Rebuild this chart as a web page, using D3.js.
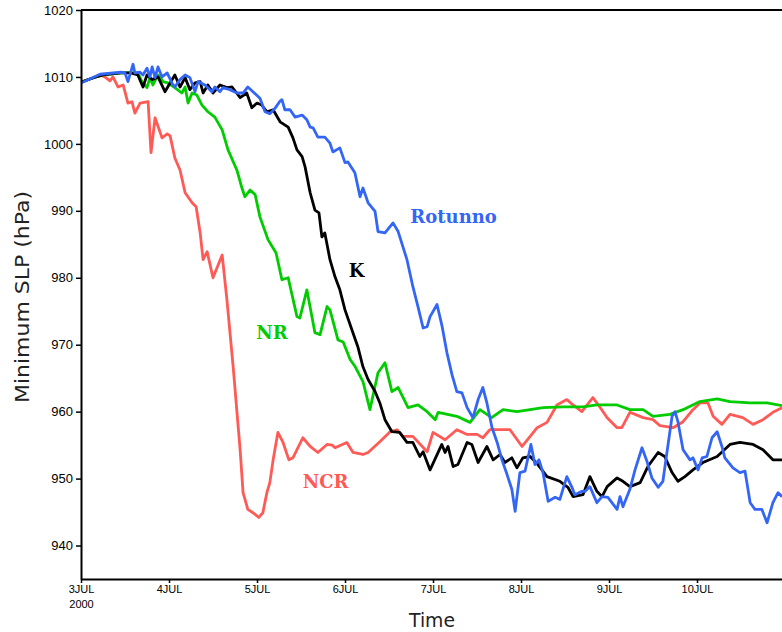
<!DOCTYPE html>
<html>
<head>
<meta charset="utf-8">
<script src="https://cdn.jsdelivr.net/npm/d3@7"></script>
<style>
  html, body { margin: 0; padding: 0; background: #fff; }
  svg { display: block; }
</style>
</head>
<body>
<svg id="chart" width="782" height="632"></svg>
<script>
// Minimum sea-level pressure (hPa) against hours since 3 JUL 2000 00Z.
const tickHours = [0, 24, 48, 72, 96, 120, 144, 168];
const tickLabels = ["3JUL", "4JUL", "5JUL", "6JUL", "7JUL", "8JUL", "9JUL", "10JUL"];
const yTicks = [940, 950, 960, 970, 980, 990, 1000, 1010, 1020];

const ncr = [[0,1009.2],[3,1009.8],[5.2,1010.3],[6.5,1010.0],[7.9,1009.4],[8.7,1010.0],[10.1,1008.5],[11.5,1008.8],[12.8,1006.1],[13.9,1006.3],[14.7,1004.6],[16.1,1006.1],[18.3,1006.3],[19.1,998.7],[20.2,1003.9],[22.1,1000.9],[23.5,1001.5],[24.3,1001.2],[25.6,997.9],[27.0,996.1],[28.4,992.7],[30.3,991.2],[31.4,990.6],[32.5,986.7],[33.3,982.7],[34.4,983.9],[36.0,980.0],[38.5,983.4],[39.8,976.7],[41.5,966.7],[43.4,954.3],[44.2,947.9],[45.5,945.4],[46.9,944.9],[48.5,944.2],[49.6,944.9],[50.7,947.9],[51.5,949.4],[52.4,952.8],[53.7,956.9],[55.1,955.4],[56.7,952.8],[57.8,953.1],[60.5,956.1],[62.5,954.8],[64.6,953.9],[67.1,955.1],[68.5,955.0],[69.3,954.6],[72.5,955.4],[74.2,953.9],[76.9,953.6],[78.3,953.9],[81.5,955.5],[84.3,957.0],[86.2,957.3],[87.8,956.3],[90.5,956.3],[94.4,954.0],[96.0,956.9],[99.3,955.8],[102.5,957.3],[105.3,956.6],[108.0,956.6],[109.6,956.1],[111.5,957.3],[117.0,957.3],[120.3,954.8],[122.5,956.3],[124.4,957.6],[127.1,958.4],[129.8,961.0],[132.5,961.8],[134.2,961.0],[136.6,960.0],[139.6,962.1],[141.5,960.7],[143.5,959.1],[146.2,957.6],[147.5,957.6],[149.7,959.9],[153.3,959.1],[156.0,958.8],[157.9,957.9],[161.5,957.6],[164.2,958.5],[166.9,960.3],[168.8,961.3],[171.0,961.3],[172.4,959.3],[174.8,958.1],[177.0,959.6],[180.5,959.1],[183.3,958.1],[186.0,958.8],[188.7,959.9],[191.2,960.6]];

const nr = [[0,1009.2],[3,1009.8],[6,1010.3],[10.9,1010.6],[14.2,1010.6],[15.5,1010.6],[16.6,1009.3],[18.0,1008.4],[18.8,1009.9],[19.6,1008.8],[21.0,1010.3],[22.4,1009.3],[23.7,1009.1],[25.6,1008.4],[27.5,1007.6],[28.4,1008.5],[29.2,1006.1],[30.3,1007.6],[31.6,1007.3],[33.0,1005.8],[34.6,1004.8],[36.5,1004.0],[38.5,1002.1],[40.1,999.1],[42.5,996.1],[43.9,993.4],[44.7,992.1],[46.1,993.1],[47.5,992.4],[48.8,989.1],[51.0,985.7],[53.2,983.7],[54.8,979.7],[56.5,980.0],[58.9,974.2],[59.7,974.0],[61.6,978.2],[63.8,971.8],[65.2,971.5],[67.1,975.7],[67.9,975.2],[70.1,970.7],[71.5,970.4],[73.4,967.8],[74.8,966.7],[76.9,964.5],[78.8,960.3],[81.0,965.8],[82.9,967.3],[84.8,963.0],[86.5,963.6],[89.2,960.6],[91.9,961.0],[94.4,960.0],[96.6,958.8],[97.4,959.9],[102.5,959.3],[106.1,958.4],[108.8,960.3],[112.0,959.1],[115.1,960.3],[118.9,960.0],[122.5,960.3],[126.0,960.6],[131.5,960.7],[136.9,960.7],[140.7,961.0],[146.2,961.0],[149.7,960.3],[153.3,960.3],[156.0,959.3],[160.6,959.6],[164.2,960.3],[168.8,961.5],[173.5,961.9],[177.0,961.5],[182.5,961.3],[187.1,961.3],[191.2,960.9]];

const k = [[0,1009.2],[3,1009.8],[6,1010.3],[10.9,1010.6],[13.6,1010.6],[15.5,1010.3],[16.9,1008.5],[18.0,1010.3],[19.4,1009.6],[21.0,1010.0],[22.9,1007.8],[24.3,1009.1],[25.6,1010.3],[27.0,1008.5],[28.4,1009.9],[29.7,1008.1],[31.1,1009.1],[32.5,1009.3],[33.3,1007.6],[34.6,1008.8],[36.0,1007.6],[37.9,1008.8],[39.8,1008.4],[41.2,1008.5],[43.4,1006.9],[45.2,1007.6],[46.6,1005.4],[48.0,1006.1],[49.3,1005.8],[50.7,1004.8],[52.4,1005.1],[54.3,1003.3],[56.5,1002.5],[57.8,1000.9],[58.9,999.1],[60.3,998.1],[61.1,996.6],[62.5,992.7],[63.8,990.1],[64.9,989.7],[65.7,986.1],[66.5,986.7],[67.9,982.7],[69.3,980.1],[70.6,978.2],[72.0,975.2],[73.9,972.2],[75.5,969.7],[76.9,966.7],[78.3,964.8],[80.2,963.0],[81.5,961.3],[82.9,958.8],[84.8,957.0],[86.9,956.9],[88.9,955.4],[90.5,955.4],[92.4,953.3],[93.3,954.0],[95.2,951.3],[98.4,955.1],[99.3,953.9],[100.1,954.8],[101.5,951.8],[102.8,952.1],[105.3,955.4],[106.6,955.1],[108.3,952.4],[110.7,954.8],[112.4,952.8],[114.3,953.6],[115.6,952.4],[117.5,953.1],[118.9,951.6],[120.5,953.1],[122.5,953.3],[124.6,952.1],[127.1,950.3],[130.6,949.6],[132.8,948.7],[134.2,947.3],[136.9,947.6],[138.8,950.3],[140.7,948.1],[142.1,947.3],[143.5,948.8],[146.2,950.1],[147.8,949.6],[149.7,948.8],[152.5,949.4],[154.6,951.8],[157.4,953.9],[159.2,953.3],[161.2,950.9],[162.8,949.6],[164.7,950.3],[166.9,951.3],[169.6,952.4],[173.5,953.3],[177.0,955.1],[179.7,955.4],[183.3,955.1],[186.0,954.3],[188.7,952.8],[191.2,952.8]];

const rotunno = [[0,1009.1],[5.2,1010.4],[10.9,1010.7],[12.0,1010.6],[12.8,1009.3],[14.2,1011.9],[14.7,1010.6],[16.1,1010.7],[16.9,1010.3],[18.0,1011.3],[18.8,1010.0],[19.4,1011.5],[20.2,1009.9],[21.0,1011.5],[22.1,1010.0],[23.5,1010.6],[24.8,1009.1],[25.6,1008.5],[27.0,1009.6],[28.4,1010.3],[29.7,1009.9],[31.1,1007.8],[31.9,1009.3],[33.8,1008.8],[35.7,1007.8],[36.5,1008.5],[37.9,1007.8],[38.7,1008.4],[40.6,1008.1],[42.5,1007.6],[44.2,1007.6],[45.5,1008.5],[46.9,1007.8],[48.8,1006.8],[50.2,1004.8],[51.5,1004.5],[52.9,1005.3],[54.3,1006.4],[54.8,1006.6],[55.6,1005.1],[57.0,1005.1],[58.4,1004.0],[60.3,1004.3],[61.6,1003.6],[62.5,1002.5],[63.3,1002.4],[64.6,1001.0],[66.5,1001.0],[67.9,1000.1],[68.7,998.8],[70.6,999.4],[72.0,997.2],[72.8,997.3],[74.7,995.7],[76.1,992.1],[76.9,993.4],[78.3,991.2],[80.2,989.9],[81.0,986.9],[82.9,986.7],[85.1,988.2],[86.5,986.9],[88.9,982.7],[90.5,978.7],[91.9,975.7],[93.3,972.5],[94.4,972.7],[95.2,974.2],[97.1,976.0],[98.5,972.7],[99.8,968.8],[101.2,965.5],[102.5,963.0],[103.9,962.8],[105.3,960.6],[106.9,959.1],[108.3,961.8],[109.6,963.6],[110.7,961.3],[112.1,957.6],[113.5,955.4],[114.8,952.8],[116.2,950.6],[117.5,948.4],[118.4,945.1],[119.7,950.9],[121.1,951.1],[122.7,955.1],[123.8,952.1],[124.9,952.8],[126.0,950.9],[127.4,946.6],[129.3,947.2],[130.6,946.9],[132.5,950.3],[133.9,948.7],[134.7,947.6],[136.6,948.1],[137.5,948.1],[138.8,948.8],[140.7,946.4],[142.1,947.3],[143.7,947.2],[146.2,945.4],[147.0,947.3],[147.8,945.8],[149.7,948.4],[151.1,951.3],[153.0,954.6],[154.4,952.5],[155.7,950.1],[157.4,948.7],[158.7,949.6],[159.8,953.9],[161.2,959.3],[162.0,960.0],[162.8,958.5],[164.2,954.3],[166.1,952.8],[166.9,953.1],[168.3,951.3],[169.4,953.1],[170.7,953.3],[172.1,956.1],[173.5,957.0],[174.8,954.8],[175.6,953.1],[177.8,951.6],[179.7,950.9],[181.1,951.1],[182.5,946.4],[183.8,945.4],[185.7,945.4],[187.1,943.4],[188.7,946.4],[190.1,947.9],[191.2,947.3]];

const series = [
  { name: "NCR", data: ncr, color: "#ff5a55", label: [60.5, 948.6] },
  { name: "NR", data: nr, color: "#00cc00", label: [47.8, 970.9] },
  { name: "Rotunno", data: rotunno, color: "#3466f6", label: [89.8, 988.2] },
  { name: "K", data: k, color: "#000000", label: [73.0, 980.1] }
];

const svg = d3.select("#chart");
const plotLeft = 81, plotRight = 785, plotTop = 10, plotBottom = 579;

const x = d3.scaleLinear().domain([0, 192]).range([plotLeft, plotRight]);
const y = d3.scaleLinear().domain([935, 1020]).range([plotBottom, plotTop]);

svg.append("defs").append("clipPath").attr("id", "plot")
  .append("rect").attr("x", plotLeft).attr("y", plotTop)
  .attr("width", plotRight - plotLeft).attr("height", plotBottom - plotTop);

const line = d3.line().x(d => x(d[0])).y(d => y(d[1]));

const lines = svg.append("g").attr("clip-path", "url(#plot)");
// draw order: NCR, NR, K, then Rotunno on top
[series[0], series[1], series[3], series[2]].forEach(s => {
  lines.append("path")
    .datum(s.data)
    .attr("d", line)
    .attr("fill", "none")
    .attr("stroke", s.color)
    .attr("stroke-width", 2.8)
    .attr("stroke-linejoin", "round");
});

// series names
series.forEach(s => {
  svg.append("text")
    .attr("x", x(s.label[0]))
    .attr("y", y(s.label[1]))
    .attr("font-family", "'DejaVu Serif', serif")
    .attr("font-weight", "bold")
    .attr("font-size", 18)
    .attr("fill", s.color)
    .text(s.name);
});

// axes
const yAxis = d3.axisLeft(y).tickValues(yTicks).tickSize(5).tickSizeOuter(0).tickPadding(3)
  .tickFormat(d3.format("d"));
const gy = svg.append("g").attr("transform", `translate(${plotLeft},0)`).call(yAxis);
gy.selectAll("text").attr("font-family", "'Liberation Sans', Arial, sans-serif").attr("font-size", 13).attr("fill", "#000");

const xAxis = d3.axisBottom(x).tickValues(tickHours).tickSize(4).tickSizeOuter(0).tickPadding(2)
  .tickFormat((d, i) => tickLabels[i]);
const gx = svg.append("g").attr("transform", `translate(0,${plotBottom})`).call(xAxis);
gx.selectAll("text").attr("font-family", "'Liberation Sans', Arial, sans-serif").attr("font-size", 11).attr("fill", "#000");
gx.selectAll(".tick").filter((d, i) => i === 0).append("text")
  .attr("y", 21).attr("dy", "0.71em").attr("text-anchor", "middle")
  .attr("font-family", "'Liberation Sans', Arial, sans-serif").attr("font-size", 11).attr("fill", "#000")
  .text("2000");

[gx, gy].forEach(g => {
  g.select(".domain").attr("stroke", "#000").attr("stroke-width", 2);
  g.selectAll(".tick line").attr("stroke", "#000").attr("stroke-width", 1.5);
});

// top frame line
svg.append("line").attr("x1", plotLeft).attr("x2", plotRight).attr("y1", plotTop).attr("y2", plotTop)
  .attr("stroke", "#000").attr("stroke-width", 2);

// axis titles
svg.append("text")
  .attr("transform", "translate(29,297) rotate(-90)")
  .attr("text-anchor", "middle")
  .attr("font-family", "'DejaVu Sans', sans-serif")
  .attr("font-size", 20)
  .attr("textLength", 212)
  .attr("lengthAdjust", "spacingAndGlyphs")
  .attr("fill", "#222")
  .text("Minimum SLP (hPa)");

svg.append("text")
  .attr("x", 432).attr("y", 627)
  .attr("text-anchor", "middle")
  .attr("font-family", "'DejaVu Sans', sans-serif")
  .attr("font-size", 20)
  .attr("textLength", 46)
  .attr("lengthAdjust", "spacingAndGlyphs")
  .attr("fill", "#222")
  .text("Time");
</script>
</body>
</html>
